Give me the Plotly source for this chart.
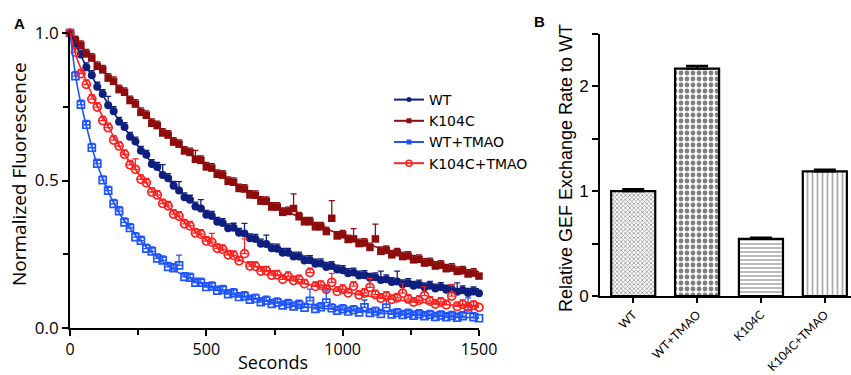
import plotly.graph_objects as go

# ---------------- Panel A data ----------------
seconds = list(range(0, 1501, 20))  # sample times, s

wt = [1.000, 0.958, 0.927, 0.884, 0.857, 0.818, 0.793, 0.755, 0.735, 0.699,
      0.681, 0.648, 0.632, 0.601, 0.587, 0.556, 0.546, 0.519, 0.508, 0.482,
      0.466, 0.443, 0.435, 0.412, 0.405, 0.384, 0.380, 0.360, 0.356, 0.338,
      0.340, 0.323, 0.320, 0.304, 0.302, 0.286, 0.285, 0.270, 0.269, 0.255,
      0.255, 0.242, 0.242, 0.229, 0.230, 0.218, 0.219, 0.207, 0.210, 0.198,
      0.196, 0.186, 0.188, 0.178, 0.179, 0.170, 0.172, 0.163, 0.165, 0.156,
      0.158, 0.148, 0.152, 0.143, 0.147, 0.138, 0.143, 0.134, 0.139, 0.130,
      0.131, 0.123, 0.128, 0.119, 0.124, 0.118]

k104c = [1.000, 0.974, 0.958, 0.929, 0.915, 0.887, 0.875, 0.847, 0.836, 0.808,
         0.799, 0.771, 0.759, 0.731, 0.721, 0.694, 0.686, 0.661, 0.654, 0.630,
         0.623, 0.600, 0.595, 0.572, 0.568, 0.546, 0.542, 0.521, 0.518, 0.497,
         0.494, 0.473, 0.471, 0.451, 0.450, 0.430, 0.429, 0.410, 0.410, 0.392,
         0.395, 0.405, 0.377, 0.360, 0.360, 0.343, 0.343, 0.327, 0.372, 0.312,
         0.316, 0.300, 0.302, 0.286, 0.288, 0.273, 0.302, 0.260, 0.263, 0.248,
         0.255, 0.242, 0.244, 0.231, 0.233, 0.220, 0.222, 0.210, 0.213, 0.201,
         0.203, 0.192, 0.194, 0.183, 0.186, 0.176]

wt_tmao = [1.000, 0.854, 0.757, 0.689, 0.611, 0.557, 0.501, 0.466, 0.421, 0.396,
           0.358, 0.339, 0.308, 0.296, 0.269, 0.260, 0.236, 0.229, 0.207, 0.203,
           0.212, 0.173, 0.171, 0.154, 0.154, 0.139, 0.141, 0.127, 0.129, 0.115,
           0.118, 0.105, 0.108, 0.096, 0.100, 0.088, 0.093, 0.082, 0.087, 0.077,
           0.082, 0.073, 0.079, 0.069, 0.092, 0.065, 0.071, 0.086, 0.067, 0.059,
           0.064, 0.056, 0.061, 0.053, 0.070, 0.051, 0.056, 0.048, 0.069, 0.046,
           0.051, 0.044, 0.049, 0.042, 0.047, 0.040, 0.045, 0.038, 0.043, 0.037,
           0.041, 0.035, 0.040, 0.062, 0.037, 0.033]

k104c_tmao = [1.000, 0.935, 0.862, 0.826, 0.776, 0.749, 0.703, 0.679, 0.637, 0.617,
              0.589, 0.553, 0.538, 0.504, 0.492, 0.461, 0.451, 0.422, 0.414, 0.386,
              0.379, 0.353, 0.346, 0.322, 0.318, 0.295, 0.291, 0.270, 0.267, 0.248,
              0.246, 0.228, 0.252, 0.210, 0.209, 0.193, 0.194, 0.179, 0.180, 0.165,
              0.175, 0.161, 0.164, 0.150, 0.188, 0.141, 0.145, 0.131, 0.155, 0.124,
              0.131, 0.119, 0.142, 0.112, 0.118, 0.138, 0.113, 0.101, 0.108, 0.097,
              0.102, 0.118, 0.098, 0.088, 0.094, 0.110, 0.091, 0.081, 0.088, 0.079,
              0.108, 0.073, 0.080, 0.071, 0.077, 0.070]

# typical SEM and the larger ones that show as visible caps (index -> value)
err_typical = 0.015
wt_err_big = {7: 0.03, 17: 0.035, 20: 0.03, 24: 0.03, 32: 0.035, 36: 0.03,
              57: 0.03, 60: 0.035, 71: 0.03}
k104c_err_big = {23: 0.03, 41: 0.05, 48: 0.06, 52: 0.035, 56: 0.05}
wt_tmao_err_big = {20: 0.035, 44: 0.04, 47: 0.04, 54: 0.025, 58: 0.025, 73: 0.04}
k104c_tmao_err_big = {12: 0.035, 26: 0.03, 32: 0.05, 48: 0.03, 55: 0.03,
                      61: 0.035, 65: 0.03, 70: 0.04}

# fitted decay curves
fit_seconds = [0, 25, 50, 100, 150, 200, 300, 400, 500, 600, 800, 1000, 1200, 1500]
wt_fit = [1.0, 0.952, 0.905, 0.821, 0.745, 0.677, 0.560, 0.466, 0.390, 0.334,
          0.250, 0.196, 0.158, 0.122]
k104c_fit = [1.0, 0.972, 0.944, 0.891, 0.842, 0.795, 0.703, 0.622, 0.553, 0.492,
             0.393, 0.314, 0.252, 0.180]
wt_tmao_fit = [1.0, 0.830, 0.722, 0.553, 0.443, 0.362, 0.256, 0.187, 0.143, 0.114,
               0.079, 0.061, 0.048, 0.034]
k104c_tmao_fit = [1.0, 0.915, 0.858, 0.752, 0.666, 0.588, 0.468, 0.375, 0.299,
                  0.242, 0.166, 0.124, 0.095, 0.072]

# ---------------- Panel B data ----------------
groups = ["WT", "WT+TMAO", "K104C", "K104C+TMAO"]
rates = [1.0, 2.17, 0.545, 1.19]
rate_err = [0.02, 0.025, 0.012, 0.015]

# ---------------- styling ----------------
C_WT = "#0f1f7e"
C_K = "#8e0c0c"
C_WTT = "#1f55ff"
C_KT = "#ff2020"
FONT_A = "Open Sans"
FONT_L = "Lato"
FONT_LEG = "DejaVu Sans"
FONT_B = "Liberation Sans"


def errs(n, big):
    return [big.get(i, err_typical) for i in range(n)]


series = [
    ("WT", wt, wt_err_big, wt_fit, C_WT, dict(symbol="circle", size=8, color=C_WT)),
    ("K104C", k104c, k104c_err_big, k104c_fit, C_K, dict(symbol="square", size=7.5, color=C_K)),
    ("WT+TMAO", wt_tmao, wt_tmao_err_big, wt_tmao_fit, C_WTT,
     dict(symbol="square-open", size=7, color=C_WTT, line=dict(width=1.7, color=C_WTT))),
    ("K104C+TMAO", k104c_tmao, k104c_tmao_err_big, k104c_tmao_fit, C_KT,
     dict(symbol="circle-open", size=8, color=C_KT, line=dict(width=1.7, color=C_KT))),
]

fig = go.Figure()

for name, ys, big, fit, col, mk in series:
    n = len(ys)
    fig.add_trace(go.Scatter(
        x=seconds, y=ys, mode="markers", marker=mk, showlegend=False,
        cliponaxis=False,
        error_y=dict(type="data", symmetric=False, array=errs(n, big),
                     arrayminus=[0] * n, color=col, thickness=1.3, width=3),
        xaxis="x", yaxis="y"))

for name, ys, big, fit, col, mk in series:
    fig.add_trace(go.Scatter(
        x=fit_seconds, y=fit, mode="lines", line=dict(color=col, width=1.6, shape="spline"),
        showlegend=False, xaxis="x", yaxis="y", hoverinfo="skip"))

legend_markers = {
    "WT": dict(symbol="circle", size=5, color=C_WT),
    "K104C": dict(symbol="square", size=5, color=C_K),
    "WT+TMAO": dict(symbol="square", size=5, color=C_WTT),
    "K104C+TMAO": dict(symbol="circle-open", size=6, color=C_KT, line=dict(width=1.5, color=C_KT)),
}
for name, ys, big, fit, col, mk in series:
    fig.add_trace(go.Scatter(
        x=[None], y=[None], mode="lines+markers", name=name,
        line=dict(color=col, width=2), marker=legend_markers[name],
        xaxis="x", yaxis="y"))

fig.add_trace(go.Bar(
    x=groups, y=rates, width=0.69, xaxis="x2", yaxis="y2", showlegend=False,
    marker=dict(
        color="white",
        line=dict(color="black", width=2.2),
        pattern=dict(shape=["x", ".", "-", "|"],
                     fgcolor=["#222222", "#000000", "#555555", "#555555"],
                     bgcolor="white",
                     size=[3, 6, 4, 5],
                     solidity=[0.45, 0.5, 0.4, 0.35],
                     fillmode="overlay")),
    error_y=dict(type="data", symmetric=False, array=rate_err,
                 arrayminus=[0] * len(rates), color="black", thickness=2.2, width=11),
))

axis_common = dict(showline=True, linecolor="black", ticks="outside", automargin=False,
                   tickcolor="black", showgrid=False, zeroline=False)

fig.update_layout(
    width=851, height=375,
    margin=dict(l=0, r=0, t=0, b=0, pad=0, autoexpand=False),
    paper_bgcolor="white", plot_bgcolor="white",
    xaxis=dict(domain=[70 / 851, 479 / 851], range=[0, 1500], anchor="y",
               tickvals=[0, 500, 1000, 1500], linewidth=1.8, tickwidth=1.8, ticklen=6,
               minor=dict(dtick=250, ticks="outside", ticklen=5, tickcolor="black",
                          tickwidth=1.5, showgrid=False),
               tickfont=dict(family=FONT_A, size=16, color="black"), **axis_common),
    yaxis=dict(domain=[1 - 328 / 375, 1 - 33 / 375], range=[0, 1.0], anchor="x",
               tickvals=[0, 0.5, 1.0], tickformat=".1f", linewidth=1.8, tickwidth=1.8,
               ticklen=6,
               minor=dict(dtick=0.25, ticks="outside", ticklen=5, tickcolor="black",
                          tickwidth=1.5, showgrid=False),
               tickfont=dict(family=FONT_A, size=17, color="black"), **axis_common),
    xaxis2=dict(domain=[600 / 851, 1.0], range=[-0.52, 3.41], anchor="y2",
                tickangle=-45, linewidth=2, tickwidth=1.5, ticklen=5,
                tickfont=dict(family=FONT_L, size=12, color="black"), **axis_common),
    yaxis2=dict(domain=[1 - 296 / 375, 1 - 34 / 375], range=[0, 2.5], anchor="x2",
                tickvals=[0, 1, 2], linewidth=2, tickwidth=2, ticklen=6,
                minor=dict(dtick=0.5, ticks="outside", ticklen=6, tickcolor="black",
                           tickwidth=1.5, showgrid=False),
                tickfont=dict(family=FONT_B, size=17, color="black"), **axis_common),
    legend=dict(x=389 / 851, y=1 - 84 / 375, xanchor="left", yanchor="top",
                bgcolor="rgba(0,0,0,0)", font=dict(family=FONT_LEG, size=14, color="black"),
                tracegroupgap=0, itemwidth=30),
    showlegend=True,
    bargap=0.3,
)

annots = [
    dict(text="<b>A</b>", x=19 / 851, y=1 - 23 / 375, font=dict(family=FONT_B, size=15)),
    dict(text="<b>B</b>", x=539 / 851, y=1 - 22 / 375, font=dict(family=FONT_B, size=15)),
    dict(text="Normalized Fluorescence", x=19 / 851, y=1 - 174 / 375, textangle=-90,
         font=dict(family=FONT_A, size=19)),
    dict(text="Seconds", x=273 / 851, y=1 - 362 / 375, font=dict(family=FONT_A, size=18)),
    dict(text="Relative GEF Exchange Rate to WT", x=566 / 851, y=1 - 168 / 375,
         textangle=-90, font=dict(family=FONT_B, size=18)),
]
for a in annots:
    a["font"]["color"] = "black"
    fig.add_annotation(xref="paper", yref="paper", showarrow=False,
                       xanchor="center", yanchor="middle", **a)

fig.write_html(
    "out.html",
    config={"displayModeBar": False},
    post_script="document.body.style.margin='0';document.body.style.overflow='hidden';",
)
